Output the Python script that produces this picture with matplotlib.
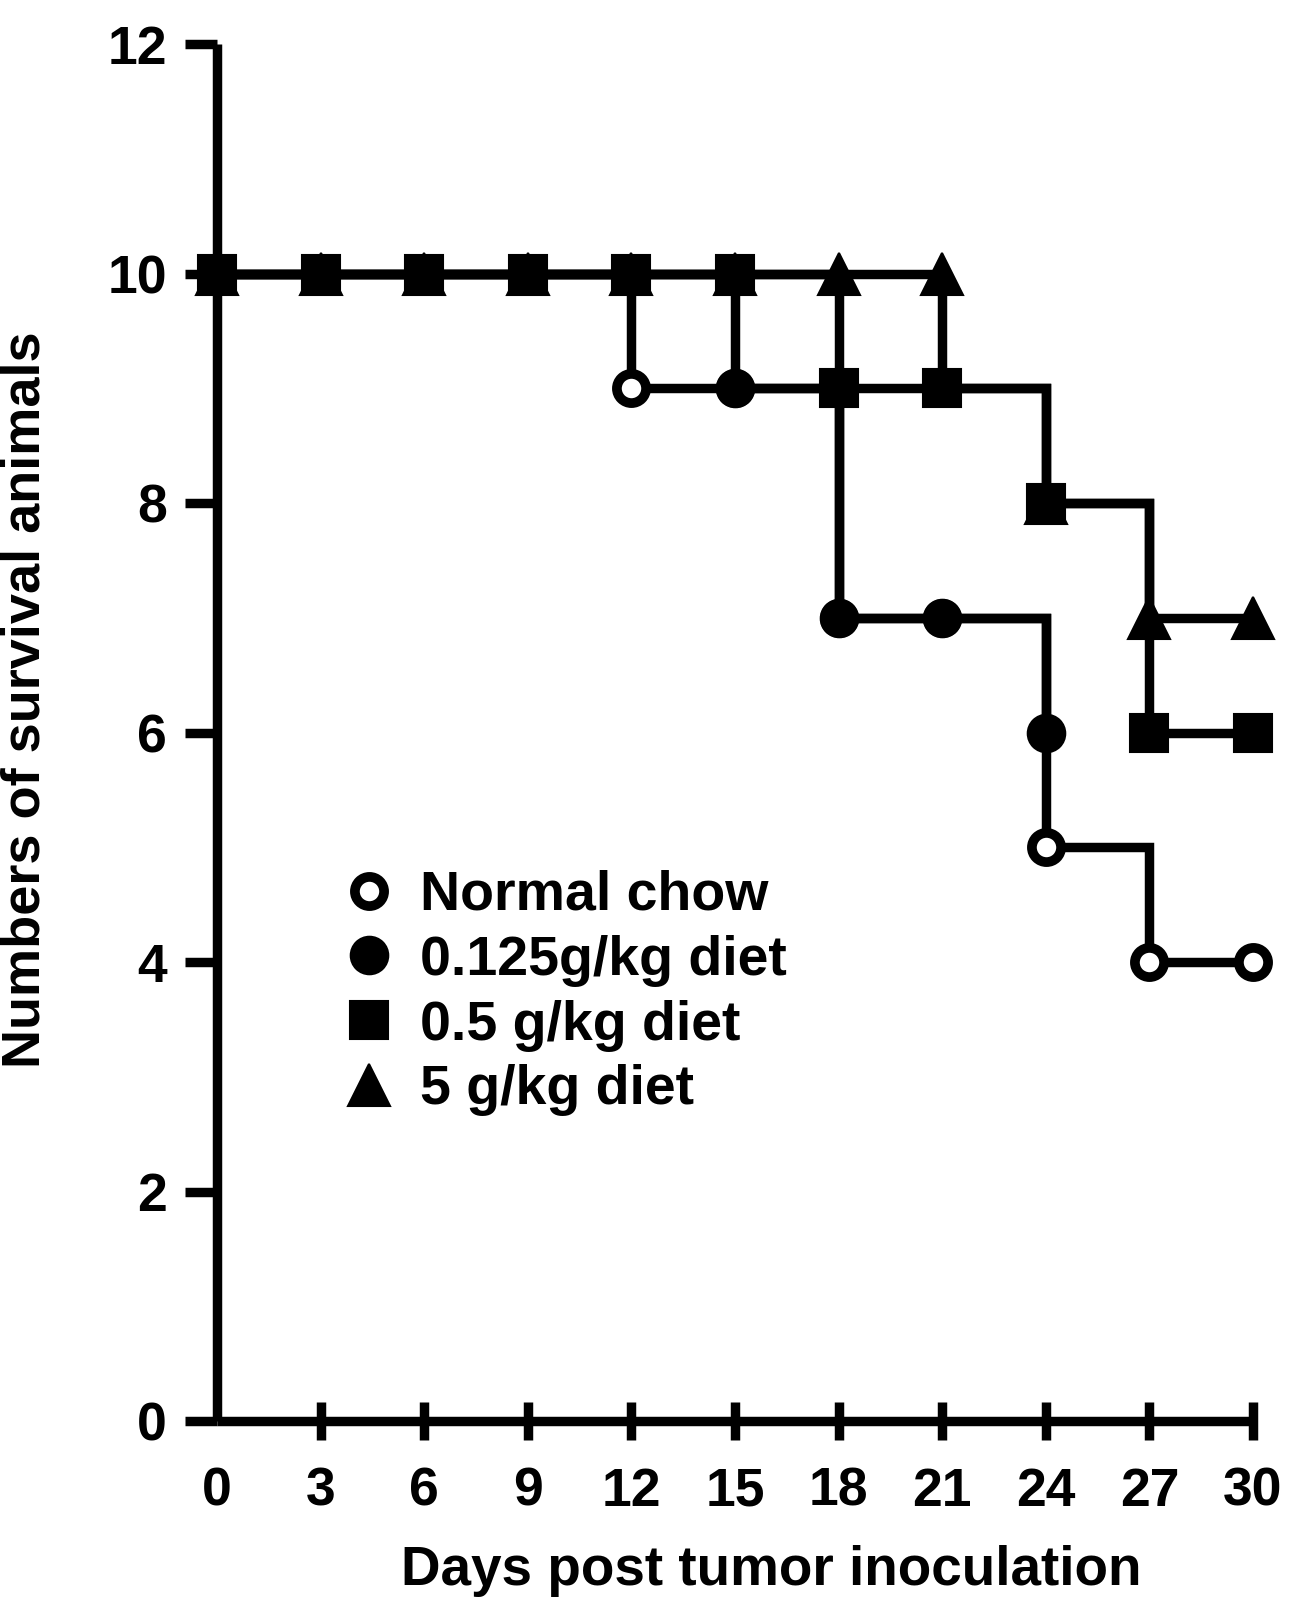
import numpy as np
import matplotlib
matplotlib.use("Agg")
import matplotlib.pyplot as plt

plt.rcParams['font.family'] = ['Liberation Sans', 'DejaVu Sans']
plt.rcParams['font.weight'] = 'bold'

days = [0, 3, 6, 9, 12, 15, 18, 21, 24, 27, 30]

# survivors per group (step curves)
normal_chow = [10, 10, 10, 10, 9, 9, 7, 7, 5, 4, 4]
diet_0125 = [10, 10, 10, 10, 10, 9, 7, 7, 6]          # curve stops at day 24
diet_05 = [10, 10, 10, 10, 10, 10, 9, 9, 8, 6, 6]
diet_5_curve = [10, 10, 10, 10, 10, 10, 10, 9, 8, 7, 7]
diet_5_marks = [10, 10, 10, 10, 10, 10, 10, 10, 8, 7, 7]

labels = ["Normal chow", "0.125g/kg diet", "0.5 g/kg diet", "5 g/kg diet"]

LW = 6.8

fig = plt.figure(figsize=(12.93, 15.99), dpi=100)
ax = fig.add_axes([217 / 1293, 1 - 1421 / 1599, (1253 - 217) / 1293, (1421 - 44) / 1599])

# step lines
for vals in [diet_5_curve, normal_chow, diet_0125, diet_05]:
    ax.plot(days[:len(vals)], vals, drawstyle='steps-post', color='black',
            lw=LW, solid_joinstyle='miter', clip_on=False, zorder=2)

# markers: triangles at the bottom, squares on top
h_tri, = ax.plot(days, diet_5_marks, ls='none', marker='^', ms=30, mfc='black',
                 mec='black', mew=1.5, clip_on=False, zorder=3)
h_open, = ax.plot(days, normal_chow, ls='none', marker='o', ms=21, mfc='white',
                  mec='black', mew=7, clip_on=False, zorder=4)
h_fill, = ax.plot(days[:len(diet_0125)], diet_0125, ls='none', marker='o', ms=27,
                  mfc='black', mec='black', mew=1.5, clip_on=False, zorder=5)
h_sq, = ax.plot(days, diet_05, ls='none', marker='s', ms=28, mfc='black',
                mec='black', mew=1.5, clip_on=False, zorder=6)

ax.set_xlim(0, 30)
ax.set_ylim(0, 12)
ax.set_xticks(days)
ax.set_yticks([0, 2, 4, 6, 8, 10, 12])

for s in ['top', 'right']:
    ax.spines[s].set_visible(False)
for s in ['left', 'bottom']:
    ax.spines[s].set_linewidth(LW)
    ax.spines[s].set_capstyle('butt')

ax.tick_params(axis='y', direction='out', length=23, width=LW, pad=13, labelsize=38.5)
ax.tick_params(axis='x', direction='inout', length=28, width=LW, pad=19, labelsize=38.5)
ax.xaxis.get_major_ticks()[0].tick1line.set_visible(False)

for t in ax.get_xticklabels() + ax.get_yticklabels():
    t.set_fontweight('bold')

fig.text(771 / 1293, 1 - 1585 / 1599, "Days post tumor inoculation",
         ha='center', va='baseline', fontsize=39.5, fontweight='bold')
fig.text(0 / 1293, 1 - 700 / 1599, "Numbers of survival animals",
         ha='left', va='center', rotation=90, fontsize=39, fontweight='bold')

leg = ax.legend([h_open, h_fill, h_sq, h_tri], labels, loc='upper left',
                bbox_to_anchor=(341 / 1293, 1 - 870 / 1599),
                bbox_transform=fig.transFigure, frameon=False,
                prop={'size': 40, 'weight': 'bold'}, handlelength=1.0,
                handletextpad=0.42, labelspacing=0.23, borderpad=0,
                borderaxespad=0, numpoints=1)

fig.savefig("out.png", dpi=100, facecolor='white')
